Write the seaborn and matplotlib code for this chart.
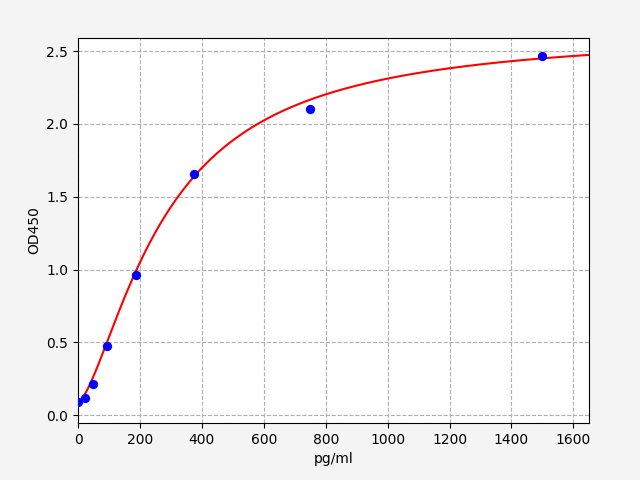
import numpy as np
import pandas as pd
import matplotlib
matplotlib.use("Agg")
import matplotlib.pyplot as plt
import seaborn as sns

# Standard concentrations and measured OD
conc = [0, 23.4, 46.9, 93.75, 187.5, 375, 750, 1500]
od = [0.093, 0.117, 0.215, 0.474, 0.962, 1.655, 2.10, 2.466]

# 4-parameter logistic fit parameters (estimated from the chart)
fit_a = 0.09
fit_b = 1.5
fit_c = 280.0
fit_d = 2.64

x_label = "pg/ml"
y_label = "OD450"
x_ticks = [0, 200, 400, 600, 800, 1000, 1200, 1400, 1600]
y_ticks = [0.0, 0.5, 1.0, 1.5, 2.0, 2.5]

xs = np.linspace(0, 1650, 400)
ys = fit_d + (fit_a - fit_d) / (1 + (xs / fit_c) ** fit_b)
curve = pd.DataFrame({"x": xs, "y": ys})
pts = pd.DataFrame({"x": conc, "y": od})

fig = plt.figure(figsize=(6.4, 4.8), dpi=100, facecolor="#f4f4f4")
ax = fig.add_axes([0.122, 0.119, 0.798, 0.802])
ax.set_facecolor("white")

sns.lineplot(data=curve, x="x", y="y", color="red", linewidth=1.5, ax=ax, zorder=2)
sns.scatterplot(data=pts, x="x", y="y", color="blue", s=45, edgecolor="blue",
                linewidth=0, ax=ax, zorder=3)

ax.set_xlim(0, 1650)
ax.set_ylim(-0.052, 2.59)
ax.set_xticks(x_ticks)
ax.set_yticks(y_ticks)
ax.set_xlabel(x_label)
ax.set_ylabel(y_label)
ax.grid(True, linestyle="--", color="#b0b0b0", linewidth=0.8)
ax.set_axisbelow(True)

fig.savefig("out.png", dpi=100, facecolor=fig.get_facecolor())
